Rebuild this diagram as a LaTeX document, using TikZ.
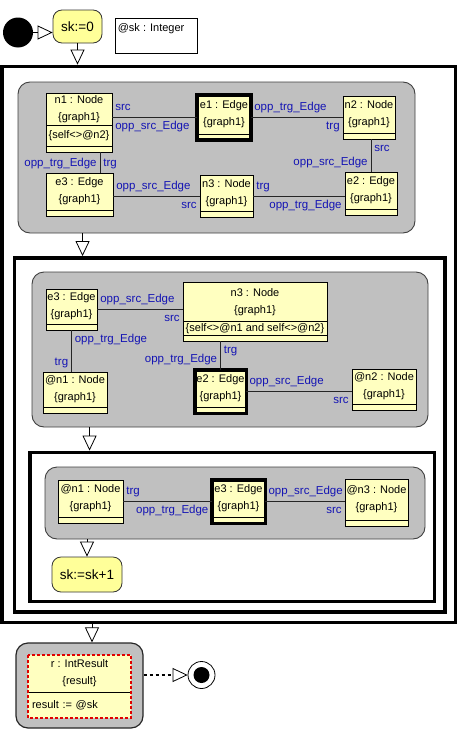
\documentclass[tikz,border=0pt]{standalone}
\usepackage{fontspec}
\setmainfont{Liberation Sans}
\usetikzlibrary{arrows.meta,positioning}
\definecolor{objfill}{HTML}{FFFFC0}
\definecolor{actfill}{HTML}{FFFF99}
\definecolor{patfill}{HTML}{C0C0C0}
\definecolor{patline}{HTML}{404040}
\definecolor{rolecol}{HTML}{1414B4}
\definecolor{resred}{HTML}{E00000}
\newcommand{\objfont}{\fontsize{11}{17}\selectfont}
\newcommand{\rolefont}{\fontsize{11.5}{13}\selectfont}
\newcommand{\actfont}{\fontsize{13.5}{16}\selectfont}
\tikzset{
  objtext/.style={font=\objfont, align=center, inner sep=0pt},
  objhead/.style={draw, fill=objfill, line width=0.8pt, inner sep=0pt, outer sep=0pt,
    label={[objtext]center:{#1}}},
  obj/.style={draw, fill=objfill, line width=0.8pt, inner sep=0pt, outer sep=0pt,
    path picture={\draw[line width=0.8pt] ([yshift=6pt]path picture bounding box.south west) -- ([yshift=6pt]path picture bounding box.south east);},
    label={[objtext, yshift=3pt]center:{#1}}},
  boldobj/.style={obj={#1}, line width=3.5pt},
  patbox/.style={draw=patline, fill=patfill, line width=0.9pt, rounded corners=12pt, inner sep=0pt},
  loopframe/.style={draw, line width=3.8pt, inner sep=0pt},
  act/.style={draw=black!80, fill=actfill, line width=0.8pt, rounded corners=9pt, inner sep=0pt, font=\actfont},
  decl/.style={draw, fill=white, line width=0.8pt, inner sep=0pt,
    label={[font=\objfont, anchor=north west, inner sep=0pt, xshift=3pt, yshift=-6pt]north west:{#1}}},
  resfield/.style={fill=objfill, minimum width=103pt, inner sep=0pt, outer sep=0pt, font=\objfont},
  resline/.style={draw=resred, line width=1.4pt, dash pattern=on 3pt off 2pt},
  startdot/.style={circle, fill=black, minimum size=30pt, inner sep=0pt},
  stopdot/.style={circle, draw, fill=white, line width=0.8pt, minimum size=27pt, inner sep=0pt,
    path picture={\fill[black] (path picture bounding box.center) circle (8pt);}},
  link/.style={draw=black!85, line width=0.7pt},
  role/.style={text=rolecol, font=\rolefont, inner xsep=3pt, inner ysep=4pt, text height=8pt, text depth=2.5pt},
  flow/.style={line width=0.8pt, -{Triangle[length=15pt, width=14pt, fill=white]}},
}
\begin{document}
\begin{tikzpicture}[x=1pt,y=-1pt]
\useasboundingbox (0,0) rectangle (458,731);
\node[loopframe, minimum width=453.5pt, minimum height=556pt] (outerloop) at (228.75,344.5) {};
\node[loopframe, minimum width=430.5pt, minimum height=354pt] (midloop) at (229.75,435) {};
\node[loopframe, minimum width=404.5pt, minimum height=149pt] (innerloop) at (232.25,527) {};

\node[startdot] (start) at (18,32.5) {};
\node[act, minimum width=49pt, minimum height=33pt] (init) at (77.5,26.5) {sk:=0};
\node[decl={@sk : Integer}, minimum width=82pt, minimum height=35pt] (decl) at (156,35.5) {};

\node[patbox, minimum width=397pt, minimum height=151pt] (pat1) at (216.5,157.5) {};
\node[objhead={n1 : Node\\\{graph1\}}, minimum width=66pt, minimum height=32pt] (n1) at (79,109) {};
\node[obj={\{self<>@n2\}}, minimum width=66pt, minimum height=27pt, below=0pt of n1] (n1c) {};
\node[boldobj={e1 : Edge\\\{graph1\}}, minimum width=54pt, minimum height=45pt] (e1) at (224,117.5) {};
\node[obj={n2 : Node\\\{graph1\}}, minimum width=52pt, minimum height=43pt] (n2) at (369,117.5) {};
\node[obj={e2 : Edge\\\{graph1\}}, minimum width=52pt, minimum height=43pt] (e2) at (371,193.5) {};
\node[obj={n3 : Node\\\{graph1\}}, minimum width=53pt, minimum height=42pt] (n3) at (226.5,196) {};
\node[obj={e3 : Edge\\\{graph1\}}, minimum width=67pt, minimum height=43pt] (e3) at (79.5,194.5) {};

\node[patbox, minimum width=396pt, minimum height=155pt] (pat2) at (230,349.5) {};
\node[obj={e3 : Edge\\\{graph1\}}, minimum width=51pt, minimum height=41pt] (p2e3) at (71.5,309.5) {};
\node[objhead={n3 : Node\\\{graph1\}}, minimum width=144pt, minimum height=39.5pt] (p2n3) at (255,301.75) {};
\node[obj={\{self<>@n1 and self<>@n2\}}, minimum width=144pt, minimum height=19.5pt, below=0pt of p2n3] (p2n3c) {};
\node[obj={@n1 : Node\\\{graph1\}}, minimum width=64pt, minimum height=41pt] (p2n1) at (75,392.5) {};
\node[boldobj={e2 : Edge\\\{graph1\}}, minimum width=51.5pt, minimum height=43.5pt] (p2e2) at (220.5,391.5) {};
\node[obj={@n2 : Node\\\{graph1\}}, minimum width=64pt, minimum height=41pt] (p2n2) at (384,389.5) {};

\node[patbox, minimum width=380pt, minimum height=72pt] (pat3) at (235,503) {};
\node[obj={@n1 : Node\\\{graph1\}}, minimum width=65pt, minimum height=43pt] (p3n1) at (90.5,501.5) {};
\node[boldobj={e3 : Edge\\\{graph1\}}, minimum width=53.5pt, minimum height=43.5pt] (p3e3) at (238.5,501.5) {};
\node[obj={@n3 : Node\\\{graph1\}}, minimum width=63pt, minimum height=47pt] (p3n3) at (376.5,502.5) {};
\node[act, minimum width=70pt, minimum height=35pt] (inc) at (87,574.5) {sk:=sk+1};

\node[patbox, draw=black!85, line width=1.2pt, minimum width=127pt, minimum height=85pt] (res) at (79.5,685.5) {};
\node[resfield, minimum height=37pt, align=center] (rtitle) at (79.5,673.5) {r : IntResult\\\{result\}};
\node[resfield, minimum height=26pt, text width=95pt, inner xsep=4pt, align=left, below=0pt of rtitle] (rattr) {result := @sk};
\draw[line width=0.8pt] (rtitle.south west) -- (rtitle.south east);
\draw[resline] (rtitle.north west) rectangle (rattr.south east);
\node[stopdot] (stop) at (201.5,675) {};

\draw[link] (n1.east |- e1.west) -- (e1.west)
  node[role, at start, anchor=south west] {src}
  node[role, at start, anchor=north west] {opp\_src\_Edge};
\draw[link] (e1.east) -- (e1.east -| n2.west)
  node[role, at start, anchor=south west] {opp\_trg\_Edge}
  node[role, at end, anchor=north east] {trg};
\draw[link] (e2.north |- n2.south) -- (e2.north)
  node[role, at start, anchor=north west] {src}
  node[role, at end, anchor=south east] {opp\_src\_Edge};
\draw[link] (n3.east) -- (n3.east -| e2.west)
  node[role, at start, anchor=south west] {trg}
  node[role, at end, anchor=north east] {opp\_trg\_Edge};
\draw[link] (e3.east |- n3.west) -- (n3.west)
  node[role, at start, anchor=south west] {opp\_src\_Edge}
  node[role, at end, anchor=north east] {src};
\draw[link] ([xshift=21pt]n1c.south) -- ([xshift=21pt]n1c.south |- e3.north)
  node[role, at end, anchor=south east] {opp\_trg\_Edge}
  node[role, at end, anchor=south west] {trg};

\draw[link] (p2e3.east) -- (p2e3.east -| p2n3.west)
  node[role, at start, anchor=south west] {opp\_src\_Edge}
  node[role, at end, anchor=north east] {src};
\draw[link] (p2e3.south) -- (p2e3.south |- p2n1.north)
  node[role, at start, anchor=north west] {opp\_trg\_Edge}
  node[role, at end, anchor=south east] {trg};
\draw[link] (p2e2.north |- p2n3c.south) -- (p2e2.north)
  node[role, at start, anchor=north west] {trg}
  node[role, at end, anchor=south east] {opp\_trg\_Edge};
\draw[link] (p2e2.east) -- (p2e2.east -| p2n2.west)
  node[role, at start, anchor=south west] {opp\_src\_Edge}
  node[role, at end, anchor=north east] {src};

\draw[link] (p3n1.east |- p3e3.west) -- (p3e3.west)
  node[role, at start, anchor=south west] {trg}
  node[role, at end, anchor=north east] {opp\_trg\_Edge};
\draw[link] (p3e3.east) -- (p3e3.east -| p3n3.west)
  node[role, at start, anchor=south west] {opp\_src\_Edge}
  node[role, at end, anchor=north east] {src};

\draw[flow] (start.east) -- (start.east -| init.west);
\draw[flow] (init.south) -- (init.south |- outerloop.north);
\draw[flow] ([xshift=65pt]pat1.south west) -- ([xshift=65pt]pat1.south west |- midloop.north);
\draw[flow] ([xshift=58pt]pat2.south west) -- ([xshift=58pt]pat2.south west |- innerloop.north);
\draw[flow] (inc.north |- pat3.south) -- (inc.north);
\draw[flow] ([xshift=12.5pt]res.north |- outerloop.south) -- ([xshift=12.5pt]res.north);
\draw[flow, line width=2.5pt, dash pattern=on 3pt off 3pt, -{Triangle[length=15pt, width=14pt, fill=white, line width=0.8pt]}] (res.east |- stop.west) -- (stop.west);
\end{tikzpicture}
\end{document}
